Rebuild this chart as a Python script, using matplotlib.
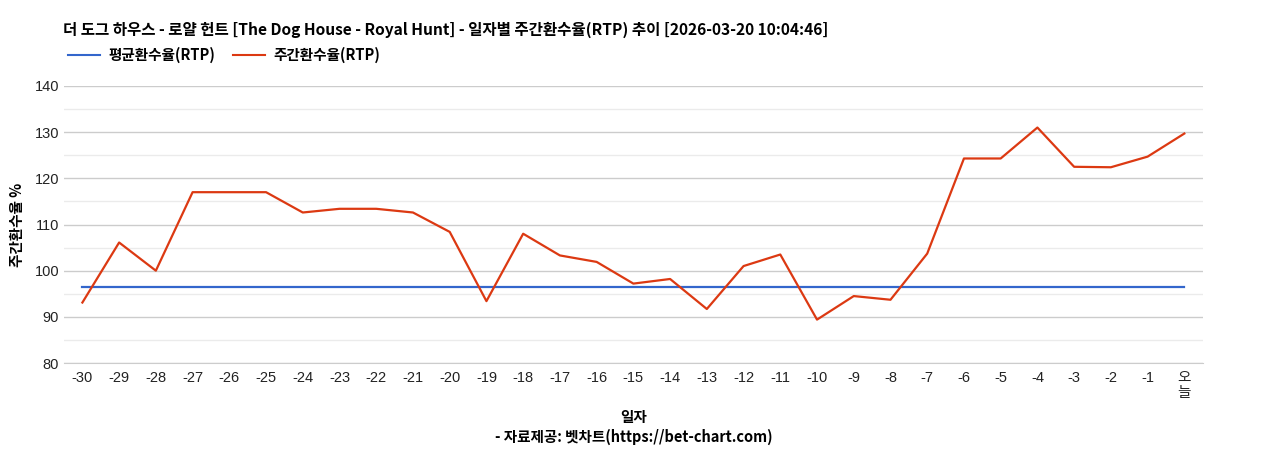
import matplotlib

matplotlib.use("Agg")
import matplotlib.pyplot as plt
from matplotlib.ticker import MultipleLocator

plt.rcParams["font.family"] = ["Liberation Sans", "Noto Sans CJK KR", "DejaVu Sans"]

days = [str(d) for d in range(-30, 0)] + ["오\n늘"]
weekly_rtp = [93.1, 106.1, 100.0, 117.0, 117.0, 117.0, 112.6, 113.4, 113.4, 112.6,
              108.4, 93.4, 108.0, 103.3, 101.9, 97.2, 98.2, 91.7, 101.0, 103.5,
              89.4, 94.5, 93.7, 103.7, 124.3, 124.3, 131.0, 122.5, 122.4, 124.7,
              129.7]
avg_rtp = [96.5] * len(days)

title = ("더 도그 하우스 - 로얄 헌트 [The Dog House - Royal Hunt] - "
         "일자별 주간환수율(RTP) 추이 [2026-03-20 10:04:46]")
kr = ["Noto Sans CJK KR", "DejaVu Sans"]

fig = plt.figure(figsize=(12.68, 4.5), dpi=100)
ax = fig.add_axes([0.0505, 0.1933, 0.898, 0.6156])
x = range(len(days))
ax.plot(x, avg_rtp, color="#3366cc", lw=1.6, label="평균환수율(RTP)")
ax.plot(x, weekly_rtp, color="#dc3912", lw=1.6, label="주간환수율(RTP)")

ax.set_xlim(-0.5, len(days) - 0.5)
ax.set_ylim(80, 140)
ax.yaxis.set_major_locator(MultipleLocator(10))
ax.yaxis.set_minor_locator(MultipleLocator(5))
ax.grid(axis="y", which="major", color="#cccccc", lw=1)
ax.grid(axis="y", which="minor", color="#ebebeb", lw=1)
ax.set_axisbelow(True)
for s in ("top", "right", "left"):
    ax.spines[s].set_visible(False)
ax.spines["bottom"].set_color("#cccccc")
ax.set_xticks(list(x))
ax.set_xticklabels(days, fontsize=10.5, va="top", linespacing=1.1)
ax.tick_params(axis="both", which="both", length=0, labelsize=10.5, colors="#222222")
ax.tick_params(axis="x", pad=6)
ax.set_ylabel("주간환수율 %", family=kr, fontweight="bold", fontsize=10.5, labelpad=7)
ax.set_xlabel("일자", family=kr, fontweight="bold", fontsize=10.5, labelpad=6)

fig.text(0.0497, 0.933, title, family=kr, fontweight="bold", fontsize=11.2,
         ha="left", va="center")
fig.text(0.5, 0.029, "- 자료제공: 벳차트(https://bet-chart.com)", family=kr,
         fontweight="bold", fontsize=10.5, ha="center", va="center")
leg = fig.legend(loc="center left", bbox_to_anchor=(0.043, 0.878), ncol=2, frameon=False,
                 prop={"family": kr, "weight": "bold", "size": 10.5},
                 handlelength=2.2, columnspacing=1.2, handletextpad=0.6)
for line in leg.get_lines():
    line.set_linewidth(1.5)

fig.savefig("out.png", dpi=100)
